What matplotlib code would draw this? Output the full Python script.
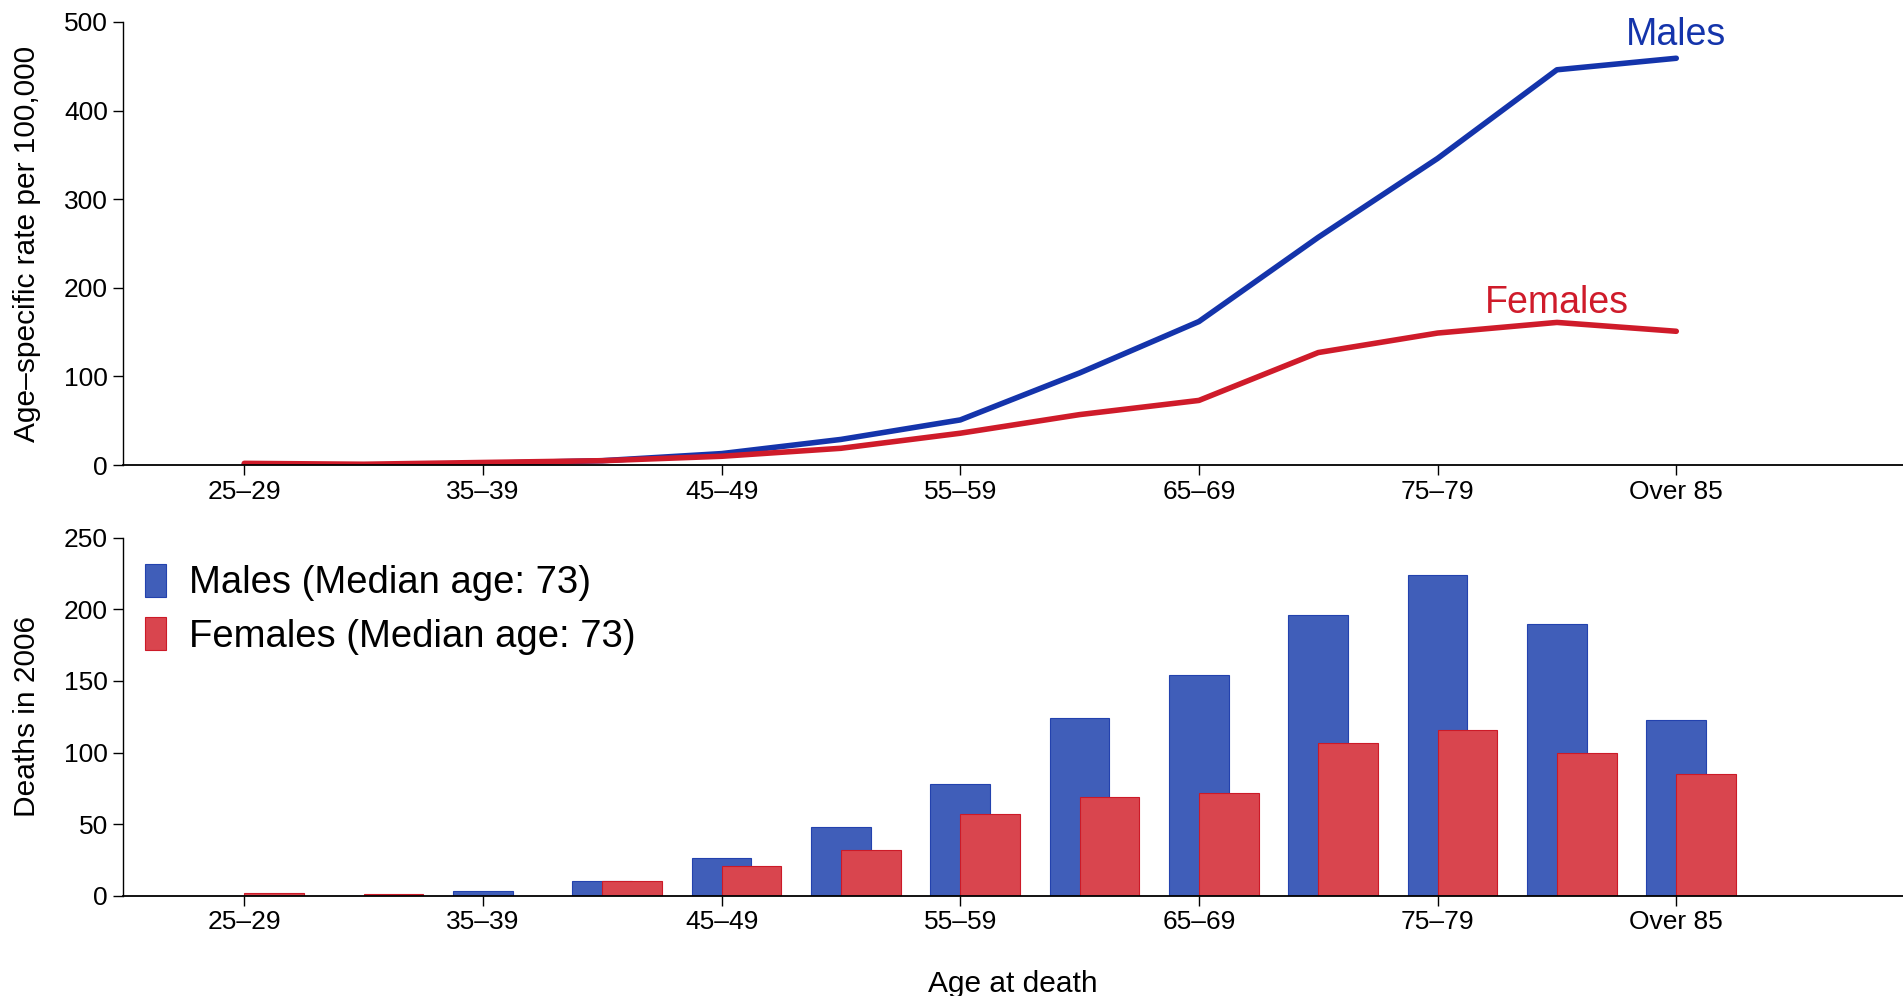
import numpy as np
import matplotlib
matplotlib.use("Agg")
import matplotlib.pyplot as plt

plt.rcParams['font.family'] = ['Liberation Sans', 'DejaVu Sans']

age_groups = ["25–29", "30–34", "35–39", "40–44", "45–49", "50–54", "55–59",
              "60–64", "65–69", "70–74", "75–79", "80–84", "Over 85"]

# age-specific rate per 100,000
rate_males = [1, 0, 2, 5, 13, 29, 51, 104, 162, 257, 346, 446, 459]
rate_females = [2, 1, 3, 5, 10, 19, 36, 57, 73, 127, 149, 161, 151]

# deaths in 2006
deaths_males = [0, 0, 3, 10, 26, 48, 78, 124, 154, 196, 224, 190, 123]
deaths_females = [2, 1, 0, 10, 21, 32, 57, 69, 72, 107, 116, 100, 85]

blue_line = '#1434AB'
red_line = '#CF1B2A'
blue_bar = '#405EB9'
red_bar = '#D9454E'

x = np.arange(len(age_groups))

fig = plt.figure(figsize=(19.03, 9.96), dpi=100)
ax1 = fig.add_axes([0.0644, 0.533, 0.9356, 0.445])
ax2 = fig.add_axes([0.0644, 0.1007, 0.9356, 0.3593])

# top panel - rates
ax1.plot(x, rate_males, color=blue_line, lw=4, solid_capstyle='round')
ax1.plot(x, rate_females, color=red_line, lw=4, solid_capstyle='round')
ax1.text(x[-1], 474, "Males", color=blue_line, fontsize=27, ha='center', va='baseline')
ax1.text(x[-2], 172, "Females", color=red_line, fontsize=27, ha='center', va='baseline')
ax1.set_ylim(0, 500)
ax1.set_yticks([0, 100, 200, 300, 400, 500])
ax1.spines['left'].set_bounds(0, 500)
ax1.set_ylabel("Age–specific rate per 100,000", fontsize=21.5)
ax1.yaxis.set_label_coords(-0.046, 0.5)

# bottom panel - deaths
ax2.bar(x, deaths_males, width=0.5, color=blue_bar, edgecolor='#2342AE', lw=0.8,
        label="Males (Median age: 73)")
ax2.bar(x + 0.25, deaths_females, width=0.5, color=red_bar, edgecolor='#CC1A28', lw=0.8,
        label="Females (Median age: 73)")
ax2.set_ylim(0, 250)
ax2.set_yticks([0, 50, 100, 150, 200, 250])
ax2.spines['left'].set_bounds(0, 250)
ax2.set_ylabel("Deaths in 2006", fontsize=21.5)
ax2.yaxis.set_label_coords(-0.046, 0.5)
ax2.set_xlabel("Age at death", fontsize=21.5)
ax2.xaxis.set_label_coords(0.5, -0.209)
ax2.legend(loc='upper left', bbox_to_anchor=(-0.0066, 1.024), frameon=False, fontsize=27.5,
           handlelength=0.55, handleheight=0.95, handletextpad=0.6, labelspacing=0.42)

for ax in (ax1, ax2):
    ax.set_xlim(-1.02, 13.9)
    ax.set_xticks(x[::2])
    ax.set_xticklabels(age_groups[::2])
    ax.spines['top'].set_visible(False)
    ax.spines['right'].set_visible(False)
    ax.spines['bottom'].set_linewidth(1.3)
    ax.spines['left'].set_linewidth(1.0)
    ax.tick_params(axis='both', labelsize=19, length=7, width=1.0, direction='out')

fig.savefig("out.png", dpi=100)
